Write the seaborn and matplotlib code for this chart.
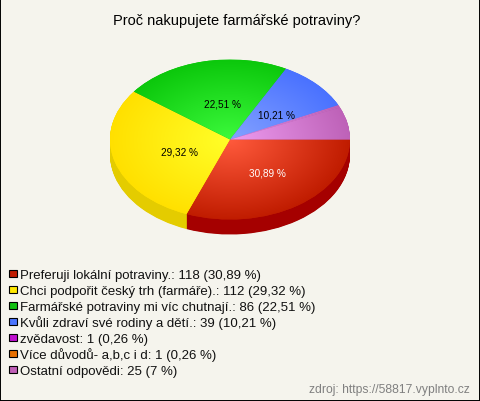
import numpy as np
import seaborn as sns
import matplotlib
matplotlib.use('Agg')
import matplotlib.pyplot as plt
from matplotlib.patches import Rectangle

title = 'Proč nakupujete farmářské potraviny?'
answers = ['Preferuji lokální potraviny.', 'Chci podpořit český trh (farmáře).',
           'Farmářské potraviny mi víc chutnají.', 'Kvůli zdraví své rodiny a dětí.',
           'zvědavost', 'Více důvodů- a,b,c i d', 'Ostatní odpovědi']
counts = [118, 112, 86, 39, 1, 1, 25]
shares = ['30,89 %', '29,32 %', '22,51 %', '10,21 %', '0,26 %', '0,26 %', '7 %']
source = 'zdroj: https://58817.vyplnto.cz'

legend_colors = ['#c01c00', '#ffe800', '#10c010', '#4d76ff', '#c010d0', '#e87000', '#c060b8']
# the two tiny answers are painted together with the last slice
inner_colors = ['#ff5a3c', '#ffff28', '#3cfa3c', '#84a2ff', '#ee9cf0', '#ee9cf0', '#ee9cf0']
outer_colors = ['#c01c00', '#ffe000', '#0cc80c', '#4a72ff', '#be62b8', '#be62b8', '#be62b8']
side_colors = ['#a50000', '#e4cc00', '#0a9a0a', '#3a58c8', '#96488f', '#96488f', '#96488f']
bg = '#f5f4ed'

sns.set_theme(style='white')
plt.rcParams['font.family'] = ['Liberation Sans', 'DejaVu Sans']

fig = plt.figure(figsize=(4.8, 4.02), dpi=100, facecolor=bg)
ax = fig.add_axes([0, 0, 1, 1])
ax.set_facecolor(bg)

# side of the pie, stacked copies going down
for d in np.arange(15, 0, -0.5):
    ax.pie(counts, colors=side_colors, startangle=0, counterclock=False, center=(0, -d / 80),
           wedgeprops={'linewidth': 0})

wedges, _, autotexts = ax.pie(counts, colors=outer_colors, startangle=0, counterclock=False,
                              autopct=lambda p: f'{p:.2f} %'.replace('.', ',') if p > 10 else '',
                              pctdistance=0.48, wedgeprops={'linewidth': 0},
                              textprops={'fontsize': 7.2, 'color': 'black'})
autotexts[0].set_color('white')
for t in autotexts:
    t.set_zorder(5)
    x, y = t.get_position()
    t.set_position((x + 5 / 120, y - 1.5 / 80))

# pie() forces equal aspect, the chart is an ellipse 120x80 px
ax.set_aspect('auto')
extent = (-1, 1, -1, 1)
xx, yy = np.meshgrid(np.linspace(-1, 1, 300), np.linspace(-1, 1, 300))
rr = np.clip(np.hypot(xx, yy), 0, 1)
for w, c1, c2 in zip(wedges, inner_colors, outer_colors):
    cmap = sns.blend_palette([c1, c2], as_cmap=True)
    im = ax.imshow(rr, cmap=cmap, vmin=0, vmax=1, extent=extent, origin='lower', aspect='auto', zorder=2)
    im.set_clip_path(w)

ax.set_xlim(-230 / 120, 250 / 120)
ax.set_ylim(-261.5 / 80, 140.5 / 80)
ax.axis('off')

fig.text(237 / 480, 1 - 20.5 / 402, title, ha='center', va='center', fontsize=10.5, color='black')

# legend rows, 16 px apart
labels = [f'{a}: {n} ({s})' for a, n, s in zip(answers, counts, shares)]
for i, (lab, c) in enumerate(zip(labels, legend_colors)):
    y = 274.5 + i * 16
    fig.add_artist(Rectangle((9 / 480, 1 - (y + 3.5) / 402), 7.5 / 480, 7.5 / 402, transform=fig.transFigure,
                             facecolor=c, edgecolor='black', linewidth=0.8))
    fig.text(20 / 480, 1 - (y + 4.5) / 402, lab, ha='left', va='baseline', fontsize=9.5, color='#111111')

fig.text(470 / 480, 1 - 390 / 402, source, ha='right', va='center', fontsize=8.75, color='#808080')

# thin dark frame around the picture
fig.add_artist(Rectangle((0, 0), 1, 1, transform=fig.transFigure, fill=False, edgecolor='black', linewidth=1.4))

fig.savefig('out.png', dpi=100, facecolor=bg)
